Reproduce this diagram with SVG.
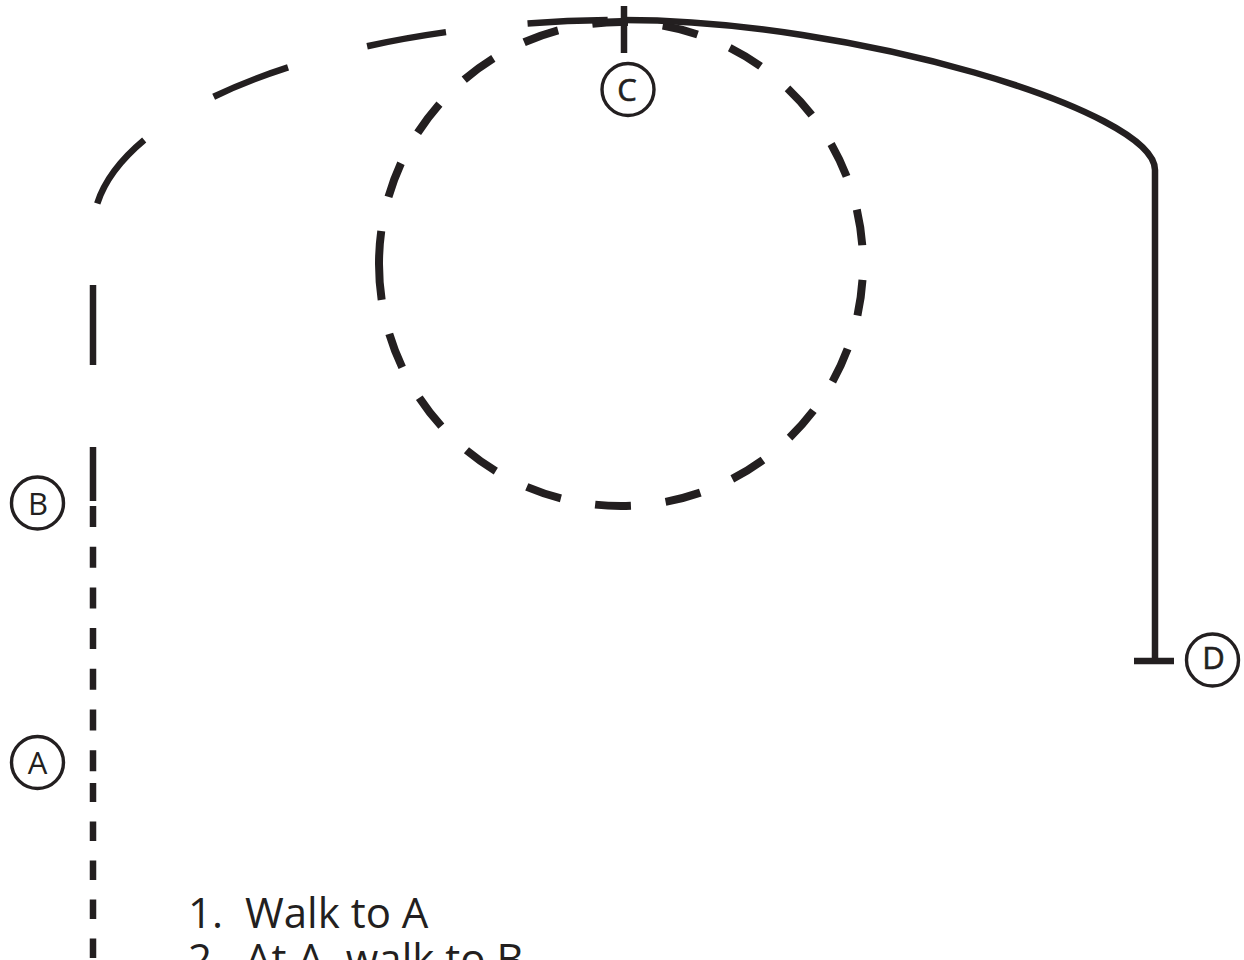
<svg xmlns="http://www.w3.org/2000/svg" width="1244" height="960" viewBox="0 0 1244 960">
<style>
.ln{fill:none;stroke:#231f20;stroke-width:6.5;stroke-linecap:butt}
.circ{fill:#fff;stroke:#231f20;stroke-width:3.4}
.lbl{font-family:"Open Sans","Liberation Sans",sans-serif;font-size:31px;fill:#231f20;text-anchor:middle}
.bold{stroke:#231f20;stroke-width:0.6}
.list{font-family:"Open Sans","Liberation Sans",sans-serif;font-size:42px;fill:#231f20}
</style>
<rect width="1244" height="960" fill="#fff"/>
<g id="connectors">
  <path id="dashed-circle" class="ln" style="stroke-width:8" stroke-dasharray="36 34.8" d="M379,264 A242,242 0 0 0 863,264 A242,242 0 0 0 379,264"/>
  <path id="path-b-c" class="ln" stroke-dasharray="80 82" stroke-dashoffset="26" d="M93,501 V230 A531,210 0 0 1 624,20"/>
  <path id="path-a-b" class="ln" stroke-dasharray="21 19.7" d="M93,506 V772"/>
  <path id="path-start-a" class="ln" stroke-dasharray="19.5 19.5" d="M93,958 V783"/>
  <path id="path-c-d" class="ln" d="M624,20 C850,20 1155,110 1155,170 V660"/>
  <path id="tick-c" class="ln" d="M624,6 V53"/>
  <path id="bar-d" class="ln" d="M1134,661 H1174"/>
</g>
<g id="node-a">
  <circle class="circ" cx="37.5" cy="762.5" r="26"/>
  <text class="lbl" x="37.5" y="773.5">A</text>
</g>
<g id="node-b">
  <circle class="circ" cx="37.5" cy="503" r="26"/>
  <text class="lbl" x="38" y="514.5">B</text>
</g>
<g id="node-c">
  <circle class="circ" cx="628" cy="89.5" r="26"/>
  <text class="lbl bold" x="627" y="101">C</text>
</g>
<g id="node-d">
  <circle class="circ" cx="1212.5" cy="660" r="26"/>
  <text class="lbl bold" x="1213.5" y="668.5">D</text>
</g>
<g id="instructions">
  <text class="list"><tspan x="188" y="928">1.</tspan><tspan x="245" y="928">Walk to A</tspan><tspan x="188" y="974">2.</tspan><tspan x="245" y="974">At A, walk to B</tspan></text>
</g>
</svg>
